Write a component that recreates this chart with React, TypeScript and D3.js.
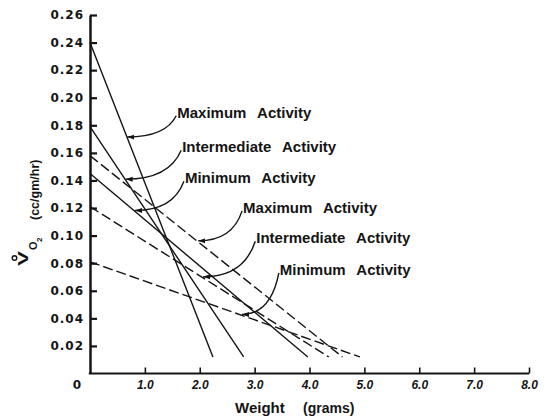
import { useEffect, useRef } from "react";
import * as d3 from "d3";

// axis ticks
const xTicks = [1, 2, 3, 4, 5, 6, 7, 8];
const xTickLabels = ["1.0", "2.0", "3.0", "4.0", "5.0", "6.0", "7.0", "8.0"];
const yTicks = [0.02, 0.04, 0.06, 0.08, 0.1, 0.12, 0.14, 0.16, 0.18, 0.2, 0.22, 0.24, 0.26];
const yTickLabels = ["0.02", "0.04", "0.06", "0.08", "0.10", "0.12", "0.14", "0.16", "0.18", "0.20", "0.22", "0.24", "0.26"];

// regression lines: weight (g) vs VO2 (cc/gm/hr)
const seriesNames = ["Max solid", "Intermediate solid", "Min solid", "Max dashed", "Intermediate dashed", "Min dashed"];
const startWeights = [0, 0, 0, 0, 0, 0];
const startValues = [0.24, 0.179, 0.145, 0.158, 0.121, 0.081];
const endWeights = [2.24, 2.8, 3.97, 4.6, 4.35, 4.92];
const endValues = [0.012, 0.012, 0.012, 0.012, 0.012, 0.012];
const seriesDashed = [false, false, false, true, true, true];

// labels with leader arrows
const annotationLabels = ["Maximum Activity", "Intermediate Activity", "Minimum Activity", "Maximum Activity", "Intermediate Activity", "Minimum Activity"];
const annotationSeries = [0, 1, 2, 3, 4, 5];
const annotationTextWeight = [1.59, 1.68, 1.73, 2.79, 3.03, 3.46];
const annotationTextValue = [0.1855, 0.1605, 0.138, 0.1165, 0.0945, 0.0715];
const annotationTargetWeight = [0.68, 0.65, 0.82, 1.97, 2.06, 2.77];

const INK = "#141414";

export default function App() {
  const ref = useRef<SVGSVGElement>(null);

  useEffect(() => {
    if (!ref.current) return;
    const svg = d3.select(ref.current);
    svg.selectAll("*").remove();

    const x = d3.scaleLinear().domain([0, 8]).range([90, 529]);
    const y = d3.scaleLinear().domain([0, 0.26]).range([373.5, 15]);

    svg.append("defs")
      .append("marker")
      .attr("id", "arrow")
      .attr("markerUnits", "userSpaceOnUse")
      .attr("markerWidth", 8)
      .attr("markerHeight", 6)
      .attr("refX", 7)
      .attr("refY", 3)
      .attr("orient", "auto")
      .append("path")
      .attr("d", "M0,0.5L7,3L0,5.5Z")
      .attr("fill", INK);

    // y axis
    const yAxis = svg.append("g")
      .attr("transform", `translate(${x(0)},0)`)
      .call(d3.axisLeft(y).tickValues(yTicks).tickSize(-7).tickSizeOuter(0).tickPadding(6)
        .tickFormat((d, i) => yTickLabels[i]));
    yAxis.select(".domain").attr("stroke", INK).attr("stroke-width", 2.5);
    yAxis.selectAll(".tick line").attr("stroke", INK).attr("stroke-width", 2.2);
    yAxis.selectAll(".tick text")
      .attr("fill", INK)
      .style("font-family", "DejaVu Sans")
      .style("font-weight", "bold")
      .style("font-size", "12px")
      .style("letter-spacing", "1px");

    // x axis
    const xAxis = svg.append("g")
      .attr("transform", `translate(0,${y(0)})`)
      .call(d3.axisBottom(x).tickValues(xTicks).tickSize(-6).tickSizeOuter(0).tickPadding(7)
        .tickFormat((d, i) => xTickLabels[i]));
    xAxis.select(".domain").attr("stroke", INK).attr("stroke-width", 2).attr("d", `M${x(0) - 1.2},0H${x(8)}`);
    xAxis.selectAll(".tick line").attr("stroke", INK).attr("stroke-width", 1.6);
    xAxis.selectAll(".tick text")
      .attr("fill", INK)
      .style("font-family", "Liberation Sans")
      .style("font-weight", "bold")
      .style("font-style", "italic")
      .style("font-size", "12px");

    svg.append("text")
      .attr("x", x(0) - 13)
      .attr("y", y(0) + 15)
      .attr("text-anchor", "middle")
      .attr("fill", INK)
      .style("font-family", "DejaVu Sans")
      .style("font-weight", "bold")
      .style("font-size", "12px")
      .text("0");

    // axis titles
    const titleStyle = (t: d3.Selection<SVGTextElement, unknown, null, undefined>, size: number) =>
      t.attr("fill", INK)
        .style("font-family", "Liberation Sans")
        .style("font-weight", "bold")
        .style("font-size", `${size}px`);

    titleStyle(svg.append("text").attr("x", 235).attr("y", 413).text("Weight"), 15);
    titleStyle(svg.append("text").attr("x", 303).attr("y", 413).text("(grams)"), 14);

    const yt = svg.append("g").attr("transform", "rotate(-90)");
    titleStyle(yt.append("text").attr("x", -266).attr("y", 28)
      .attr("textLength", 15).attr("lengthAdjust", "spacingAndGlyphs").text("V"), 15);
    yt.append("circle").attr("cx", -258).attr("cy", 14.5).attr("r", 2.3)
      .attr("fill", "none").attr("stroke", INK).attr("stroke-width", 1.4);
    titleStyle(yt.append("text").attr("x", -250).attr("y", 37).text("O"), 11);
    titleStyle(yt.append("text").attr("x", -242).attr("y", 42).text("2"), 8);
    titleStyle(yt.append("text").attr("x", -220).attr("y", 39).text("(cc/gm/hr)"), 12.5);

    // lines
    const line = d3.line<[number, number]>()
      .x(d => x(d[0]))
      .y(d => y(d[1]));

    seriesNames.forEach((name, i) => {
      svg.append("path")
        .datum([[startWeights[i], startValues[i]], [endWeights[i], endValues[i]]] as [number, number][])
        .attr("fill", "none")
        .attr("stroke", INK)
        .attr("stroke-width", 1.4)
        .attr("stroke-dasharray", seriesDashed[i] ? "10,4" : null)
        .attr("d", line);
    });

    // annotations
    annotationLabels.forEach((label, k) => {
      const i = annotationSeries[k];
      const tx = x(annotationTextWeight[k]);
      const ty = y(annotationTextValue[k]);
      svg.append("text")
        .attr("x", tx)
        .attr("y", ty)
        .attr("fill", INK)
        .style("font-family", "Liberation Sans")
        .style("font-weight", "bold")
        .style("font-size", "15px")
        .style("word-spacing", "7px")
        .text(label);

      const w = annotationTargetWeight[k];
      const v = startValues[i] + (endValues[i] - startValues[i]) * (w - startWeights[i]) / (endWeights[i] - startWeights[i]);
      const sx = tx - 1, sy = ty - 2;
      const ex = x(w), ey = y(v) - 1;
      const p = d3.path();
      p.moveTo(sx, sy);
      p.quadraticCurveTo(sx - 0.22 * (sx - ex), ey, ex, ey);
      svg.append("path")
        .attr("d", p.toString())
        .attr("fill", "none")
        .attr("stroke", INK)
        .attr("stroke-width", 1.4)
        .attr("marker-end", "url(#arrow)");
    });
  }, []);

  return (
    <div style={{ position: "absolute", left: 0, top: 0, background: "#fff" }}>
      <svg ref={ref} width={550} height={417} style={{ display: "block" }} />
    </div>
  );
}
